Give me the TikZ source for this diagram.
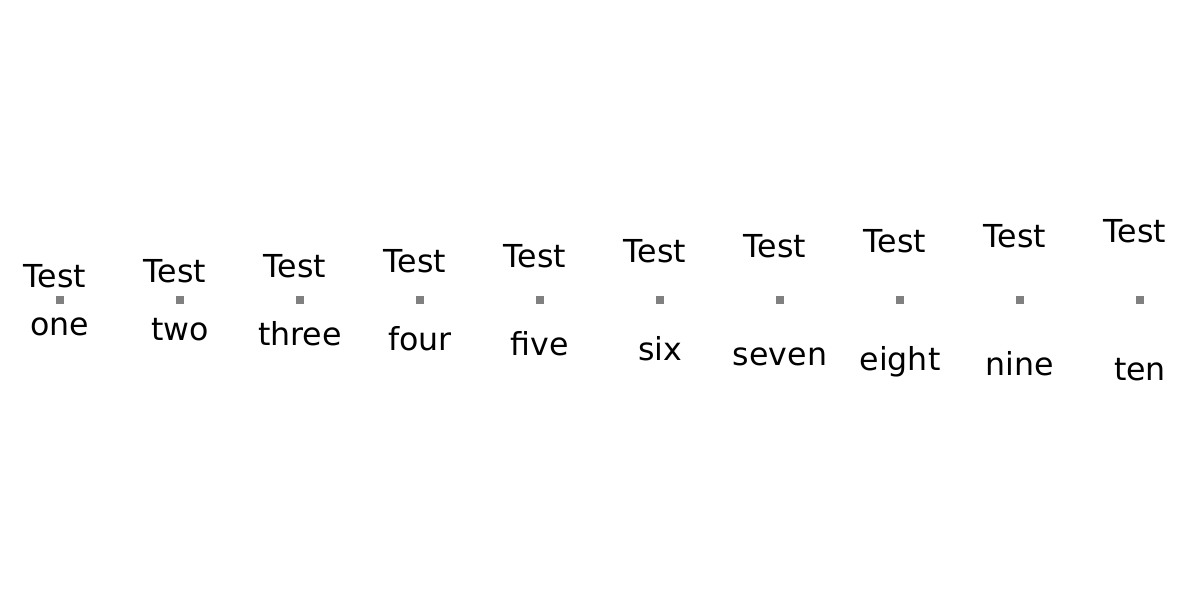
\documentclass[tikz,border=0pt]{standalone}
\usepackage{fontspec}
\setmainfont{DejaVu Sans}
\usepackage{xcolor}
\usepackage{tikz}
\usetikzlibrary{calc,positioning}

\begin{document}
\begin{tikzpicture}[
  dot/.style={fill=gray,inner sep=0pt,minimum size=.08cm},
  lbl/.style={inner sep=0pt,anchor=base,font=\fontsize{9}{11}\selectfont}]
\useasboundingbox (0,0) rectangle (12,6);
\foreach \w [count=\i from 0] in {one,two,three,four,five,six,seven,eight,nine,ten}{
  \node[dot] (p\i) at ({.6+1.2*\i},3) {};
  \node[lbl] (t\i) at ($(p\i)+(-.05,{.125+.05*\i})$) {Test};
  \node[lbl] (w\i) at ($(p\i)+(0,{-.355-.05*\i})$) {\w};
}
\end{tikzpicture}
\end{document}
